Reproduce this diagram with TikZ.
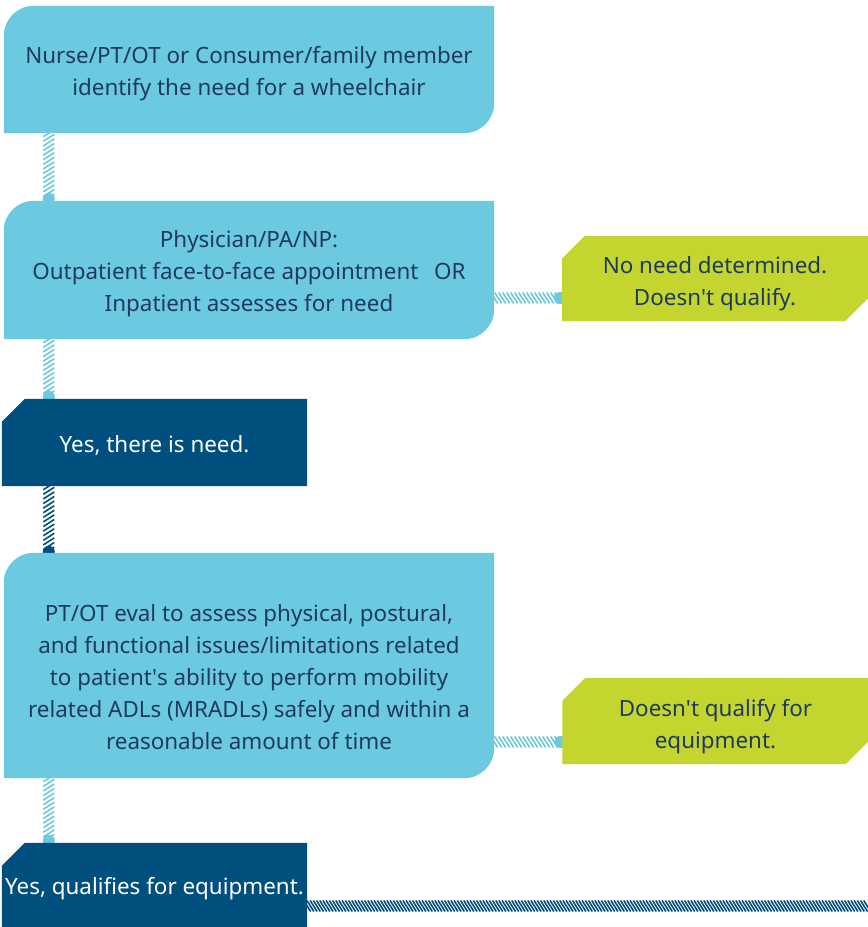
\documentclass[tikz,border=0pt]{standalone}
\usepackage{fontspec}
\setmainfont{Noto Sans}
\usetikzlibrary{decorations.markings,calc}
\definecolor{lb}{HTML}{6BCADF}
\definecolor{db}{HTML}{00507F}
\definecolor{gr}{HTML}{C4D52F}
\definecolor{tx}{HTML}{1F3A5F}
\pgfdeclarelayer{conn}
\pgfdeclarelayer{boxes}
\pgfsetlayers{conn,boxes,main}
\tikzset{
  txt/.style={font=\fontsize{22.4}{32}\selectfont, text=tx, align=center, inner sep=0pt},
  wtxt/.style={txt, text=white},
  boxnode/.style={inner sep=0pt, minimum width=490pt},
  greennode/.style={inner sep=0pt, minimum width=306pt},
  darknode/.style={inner sep=0pt, minimum width=305pt},
  hatch/.style 2 args={postaction={decorate,decoration={markings,
      mark=between positions 0 and 1 step #2 with {\draw[#1,line width=1.6pt] (3.5,-5.5)--(-3.5,5.5);}}}}
}
\begin{document}
\begin{tikzpicture}[x=1pt,y=1pt]
\useasboundingbox (0,0) rectangle (868,927);
% light blue boxes
\node[boxnode, minimum height=127pt] (b1) at (249,857.5) {};
\node[txt] (b1t) at ([yshift=-4.5pt]b1.center) {Nurse/PT/OT or Consumer/family member\\identify the need for a wheelchair};
\node[boxnode, minimum height=138pt] (b2) at (249,657) {};
\node[txt] (b2t) at ([yshift=-4pt]b2.center) {Physician/PA/NP:\\Outpatient face-to-face appointment\hspace{0.7em}OR\\Inpatient assesses for need};
\node[boxnode, minimum height=225pt] (b3) at (249,261.5) {};
\node[txt] (b3t) at ([yshift=-11.5pt]b3.center) {PT/OT eval to assess physical, postural,\\and functional issues/limitations related\\to patient\textquotesingle s ability to perform mobility\\related ADLs (MRADLs) safely and within a\\reasonable amount of time};
% green boxes
\node[greennode, minimum height=85pt] (g1) at (715,648.5) {};
\node[txt] (g1t) at ([yshift=-5.5pt]g1.center) {No need determined.\\Doesn\textquotesingle t qualify.};
\node[greennode, minimum height=86pt] (g2) at (715.5,206) {};
\node[txt] (g2t) at ([yshift=-5.5pt]g2.center) {Doesn\textquotesingle t qualify for\\equipment.};
% dark boxes
\node[darknode, minimum height=87pt] (d1) at (154.5,484.5) {};
\node[wtxt] (d1t) at ([yshift=-2.5pt]d1.center) {Yes, there is need.};
\node[darknode, minimum height=88pt] (d2) at (154.5,40) {};
\node[wtxt] (d2t) at ([yshift=-2pt]d2.center) {Yes, qualifies for equipment.};
\coordinate (vx) at ([xshift=45pt]b1.south west);
\coordinate (end) at (870,21);

\begin{pgfonlayer}{boxes}
\foreach \n in {b1,b2,b3}{
  \fill[lb] (\n.south west) -- ([yshift=-30pt]\n.north west) arc[start angle=180,end angle=90,radius=30pt]
    -- (\n.north east) -- ([yshift=30pt]\n.south east) arc[start angle=0,end angle=-90,radius=30pt] -- cycle;
}
\foreach \n in {g1,g2}{
  \fill[gr] (\n.south west) -- ([yshift=-23pt]\n.north west) -- ([xshift=23pt]\n.north west)
    -- (\n.north east) -- ([yshift=23pt]\n.south east) -- ([xshift=-23pt]\n.south east) -- cycle;
}
\foreach \n in {d1,d2}{
  \fill[db] (\n.south west) -- ([yshift=-23pt]\n.north west) -- ([xshift=23pt]\n.north west)
    -- (\n.north east) -- (\n.south east) -- cycle;
}
\end{pgfonlayer}

\begin{pgfonlayer}{conn}
% vertical connectors
\path[hatch={lb}{4.6pt}] (b1.south -| vx) -- (b2.north -| vx);
\fill[lb] ([yshift=2pt]b2.north -| vx) circle (6pt);
\path[hatch={lb}{4.6pt}] (b2.south -| vx) -- (d1.north -| vx);
\fill[lb] ([yshift=2pt]d1.north -| vx) circle (6pt);
\path[hatch={db}{4.6pt}] (d1.south -| vx) -- (b3.north -| vx);
\fill[db] ([yshift=1pt]b3.north -| vx) circle (6pt);
\path[hatch={lb}{4.6pt}] (b3.south -| vx) -- (d2.north -| vx);
\fill[lb] ([yshift=2pt]d2.north -| vx) circle (6pt);
% horizontal connectors
\coordinate (c1) at ([yshift=-28pt]b2.east);
\path[hatch={lb}{4pt}] (c1) -- (c1 -| g1.west);
\fill[lb] ([xshift=-2pt]c1 -| g1.west) circle (6pt);
\coordinate (c2) at ([yshift=-76.5pt]b3.east);
\path[hatch={lb}{4pt}] (c2) -- (c2 -| g2.west);
\fill[lb] ([xshift=-2pt]c2 -| g2.west) circle (6pt);
\coordinate (c3) at (d2.east |- end);
\path[hatch={db}{3.2pt}] (c3) -- (end);
\end{pgfonlayer}
\end{tikzpicture}
\end{document}
